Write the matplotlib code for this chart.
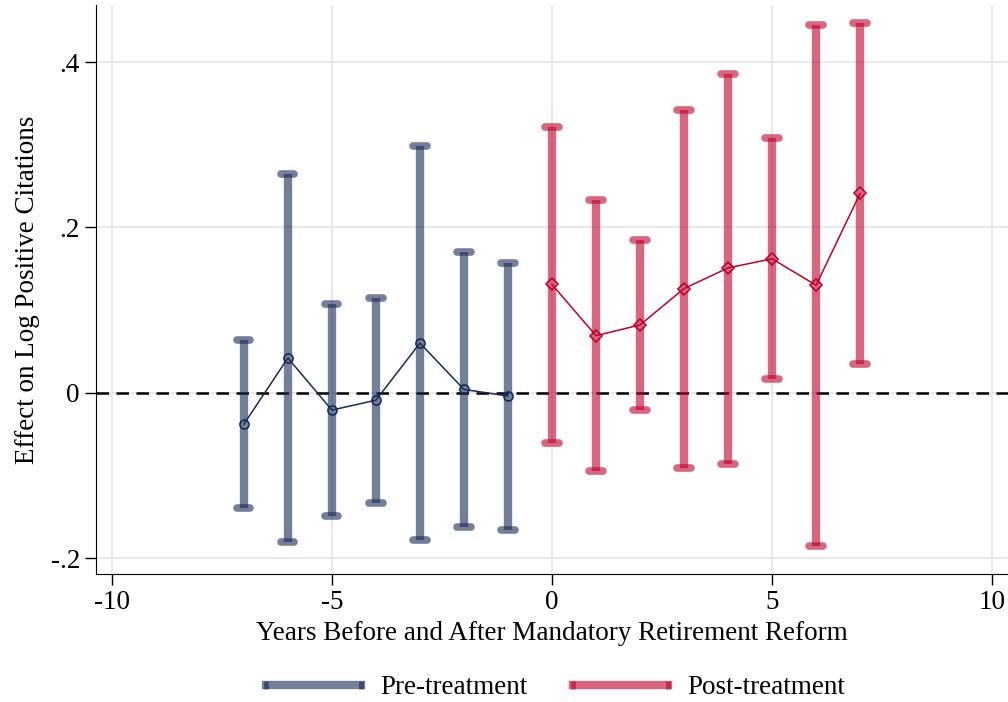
import matplotlib.pyplot as plt
import numpy as np
from matplotlib.lines import Line2D
from matplotlib.legend_handler import HandlerTuple

plt.rcParams['font.family'] = ['Liberation Serif', 'DejaVu Serif']

# datos
pre_x = [-7, -6, -5, -4, -3, -2, -1]
pre_b = [-0.038, 0.042, -0.021, -0.009, 0.060, 0.004, -0.004]
pre_lo = [-0.139, -0.180, -0.149, -0.133, -0.178, -0.162, -0.166]
pre_hi = [0.064, 0.265, 0.107, 0.115, 0.299, 0.170, 0.157]

post_x = [0, 1, 2, 3, 4, 5, 6, 7]
post_b = [0.131, 0.069, 0.082, 0.126, 0.151, 0.162, 0.130, 0.241]
post_lo = [-0.061, -0.095, -0.021, -0.091, -0.086, 0.016, -0.185, 0.035]
post_hi = [0.322, 0.233, 0.185, 0.342, 0.386, 0.308, 0.445, 0.447]

navy = '#172b57'
cran = '#c0002a'

fig = plt.figure(figsize=(10.08, 7.02), dpi=100)
ax = fig.add_axes([0.0952, 0.1823, 0.9048, 0.8106])

ax.grid(True, color='#e6e6e6', lw=1.3, zorder=0)
ax.set_axisbelow(True)
ax.axhline(0, color='black', lw=1.8, ls=(0, (5, 3)), zorder=1)

def serie(x, b, lo, hi, col, mk, ms):
    b = np.array(b)
    err = [b - np.array(lo), np.array(hi) - b]
    ax.errorbar(x, b, yerr=err, fmt='none', ecolor=col, elinewidth=6,
                alpha=0.6, zorder=2)
    # tapas redondeadas
    w = 0.15
    for xi, l, h in zip(x, lo, hi):
        for yy in (l, h):
            ax.plot([xi - w, xi + w], [yy, yy], color=col, lw=5.5, alpha=0.6,
                    solid_capstyle='round', zorder=2)
    ax.plot(x, b, color=col, lw=1.1, marker=mk, ms=ms, mfc='none',
            mec=col, mew=1.2, zorder=3)

serie(pre_x, pre_b, pre_lo, pre_hi, navy, 'o', 6.5)
serie(post_x, post_b, post_lo, post_hi, cran, 'D', 6.5)

ax.set_xlim(-10.36, 10.36)
ax.set_ylim(-0.2193, 0.469)
ax.set_xticks([-10, -5, 0, 5, 10])
ax.set_xticklabels(['-10', '-5', '0', '5', '10'])
ax.set_yticks([-0.2, 0, 0.2, 0.4])
ax.set_yticklabels(['-.2', '0', '.2', '.4'])
ax.tick_params(labelsize=19.5, length=8, width=1, colors='black')
for s in ['top', 'right']:
    ax.spines[s].set_visible(False)
ax.set_xlabel('Years Before and After Mandatory Retirement Reform', fontsize=19.5, labelpad=4)
ax.set_ylabel('Effect on Log Positive Citations', fontsize=19.5, labelpad=8)

h1 = (Line2D([], [], color=navy, lw=6, alpha=0.6),
      Line2D([], [], color=navy, ls='none', marker='|', ms=6, mew=3.5, alpha=0.6))
h2 = (Line2D([], [], color=cran, lw=6, alpha=0.6),
      Line2D([], [], color=cran, ls='none', marker='|', ms=6, mew=3.5, alpha=0.6))
fig.legend([h1, h2], ['Pre-treatment', 'Post-treatment'], loc='center',
           bbox_to_anchor=(0.547, 0.02), ncol=2, frameon=False, fontsize=19.5,
           handlelength=4.1, columnspacing=1.4, handletextpad=0.4, numpoints=2,
           handler_map={tuple: HandlerTuple(ndivide=1)})

plt.savefig('out.png', dpi=100)
